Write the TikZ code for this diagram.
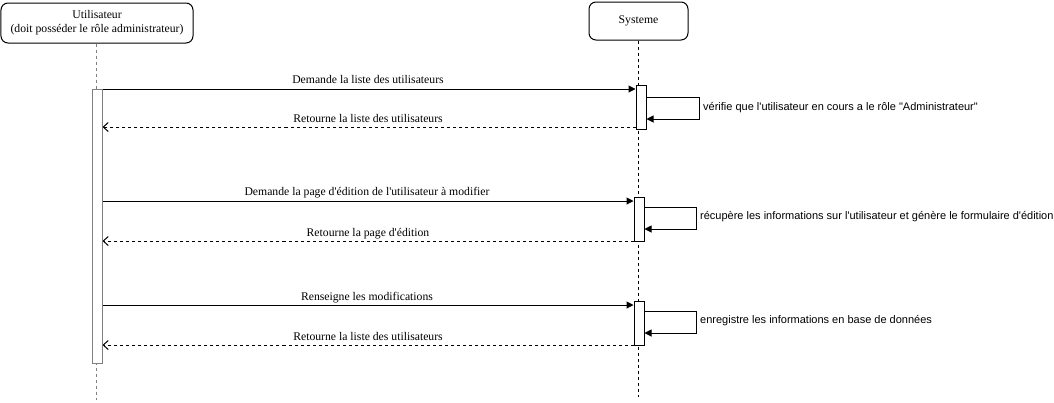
\documentclass[tikz,border=0pt]{standalone}
\usepackage{fontspec}
\setmainfont{Liberation Serif}
\newfontfamily\lserif{Liberation Serif}
\newfontfamily\lsans{Liberation Sans}
\usetikzlibrary{arrows.meta,calc}
\definecolor{lgray}{RGB}{128,128,128}
\begin{document}
\begin{tikzpicture}[x=1bp,y=-1bp,
  every node/.style={font=\lserif\fontsize{11.7bp}{14bp}\selectfont},
  head/.style={draw,rounded corners=7bp,line width=1bp,fill=white,inner sep=0pt,align=center},
  life/.style={line width=1bp,dash pattern=on 3bp off 3bp},
  actbox/.style={draw,fill=white,line width=1bp,inner sep=0pt,minimum width=10bp},
  msg/.style={line width=1bp,-{Triangle[length=7bp,width=7bp]}},
  ret/.style={line width=1bp,dash pattern=on 3bp off 3bp,-{Straight Barb[length=5bp,width=9bp]}},
  lbl/.style={inner sep=0pt,anchor=base},
  slbl/.style={inner sep=0pt,anchor=west,font=\lsans\fontsize{11bp}{13bp}\selectfont}]
\useasboundingbox (0,0) rectangle (1054,402);
% headers
\node[head,minimum width=192bp,minimum height=40bp] (user) at (97,23) {Utilisateur\\(doit posséder le rôle administrateur)};
\node[head,minimum width=99bp,minimum height=38bp] (sys) at (638.5,21) {Systeme};
% lifelines
\coordinate (uend) at (96,400);
\coordinate (send) at (638.5,397);
\draw[life,draw=lgray] (user.south -| uend) -- (uend);
\draw[life] (sys.south) -- (send);
% activations
\node[actbox,draw=lgray,minimum height=274bp] (ua) at (97,226) {};
\node[actbox,minimum height=44bp] (a1) at (641,107) {};
\node[actbox,minimum height=44bp] (a2) at (639,219) {};
\node[actbox,minimum height=44bp] (a3) at (639,323) {};
% message endpoints
\coordinate (m1) at (0,89);   \coordinate (r1) at (0,127);
\coordinate (m2) at (0,201);  \coordinate (r2) at (0,241);
\coordinate (m3) at (0,305);  \coordinate (r3) at (0,345);
% messages
\draw[msg] (ua.east |- m1) -- (a1.west |- m1);
\draw[ret] (a1.west |- r1) -- (ua.east |- r1);
\draw[msg] (ua.east |- m2) -- (a2.west |- m2);
\draw[ret] (a2.west |- r2) -- (ua.east |- r2);
\draw[msg] (ua.east |- m3) -- (a3.west |- m3);
\draw[ret] (a3.west |- r3) -- (ua.east |- r3);
% message labels
\node[lbl] (t1) at (368,83) {Demande la liste des utilisateurs};
\node[lbl] (t2) at (368,122) {Retourne la liste des utilisateurs};
\node[lbl] (t3) at (367,195) {Demande la page d'édition de l'utilisateur à modifier};
\node[lbl] (t4) at (368,236) {Retourne la page d'édition};
\node[lbl] (t5) at (367,300) {Renseigne les modifications};
\node[lbl] (t6) at (368,340) {Retourne la liste des utilisateurs};
% self messages
\coordinate (s1) at (699,97);
\coordinate (s2) at (696,207);
\coordinate (s3) at (696,311);
\draw[msg] (a1.east |- s1) -- (s1) -- ++(0,22) -- (a1.east |- 0,119);
\draw[msg] (a2.east |- s2) -- (s2) -- ++(0,22) -- (a2.east |- 0,229);
\draw[msg] (a3.east |- s3) -- (s3) -- ++(0,22) -- (a3.east |- 0,333);
\node[slbl] (u1) at (703,108) {vérifie que l'utilisateur en cours a le rôle "Administrateur"};
\node[slbl] (u2) at (700,217) {récupère les informations sur l'utilisateur et génère le formulaire d'édition};
\node[slbl] (u3) at (700,321) {enregistre les informations en base de données};
\end{tikzpicture}
\end{document}
